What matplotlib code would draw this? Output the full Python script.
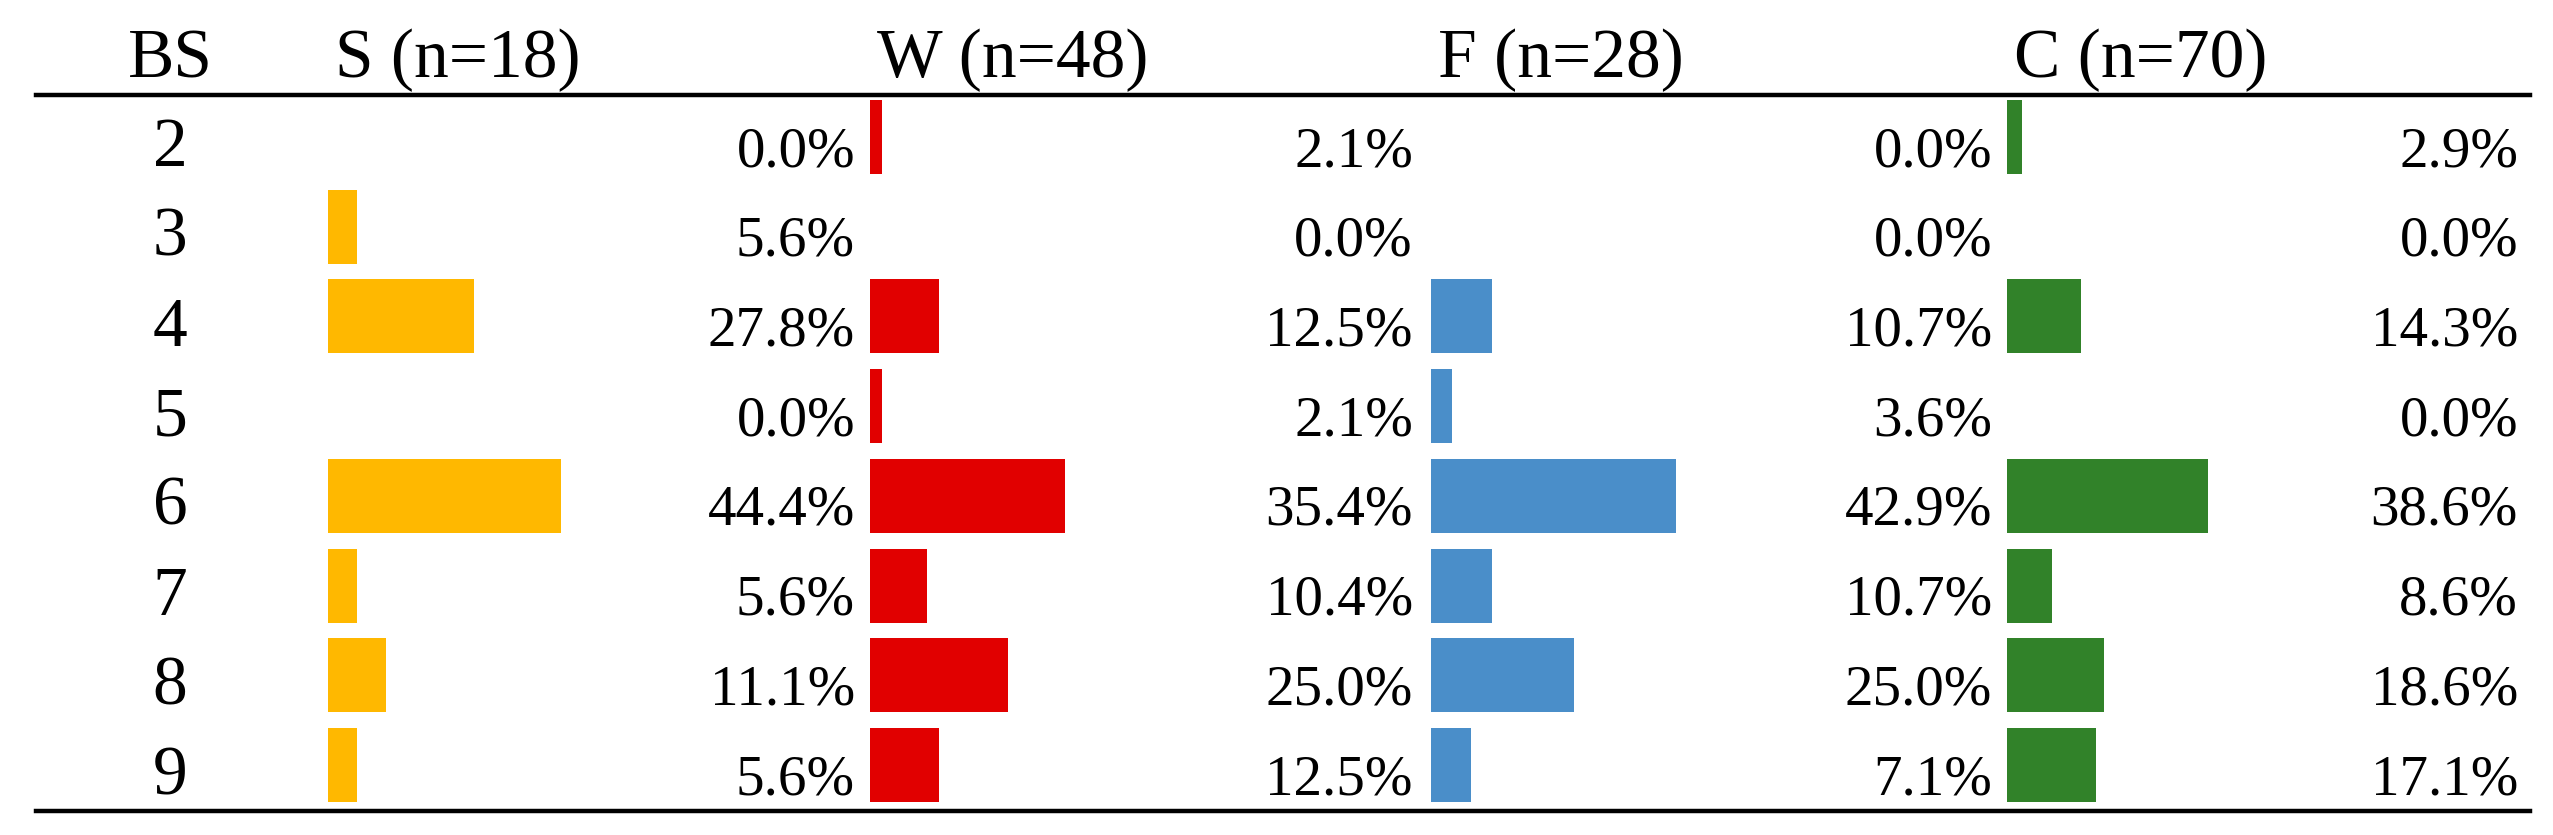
import matplotlib.pyplot as plt
from matplotlib.transforms import offset_copy, blended_transform_factory

# data
bs = ["2", "3", "4", "5", "6", "7", "8", "9"]
groups = ["S (n=18)", "W (n=48)", "F (n=28)", "C (n=70)"]
s_pct = [0.0, 5.6, 27.8, 0.0, 44.4, 5.6, 11.1, 5.6]
w_pct = [2.1, 0.0, 12.5, 2.1, 35.4, 10.4, 25.0, 12.5]
f_pct = [0.0, 0.0, 10.7, 3.6, 42.9, 10.7, 25.0, 7.1]
c_pct = [2.9, 0.0, 14.3, 0.0, 38.6, 8.6, 18.6, 17.1]
colors = ["#FFB800", "#E10000", "#4A8EC9", "#318229"]

W, H = 2553, 835
plt.rcParams['font.family'] = ['Liberation Serif', 'DejaVu Serif']
fig = plt.figure(figsize=(W / 100, H / 100), dpi=100)

# layout in pixels (bar start, scale width for 0-100%, right edge of % text)
col_left = [328, 870, 1431, 2007]
col_width = [525, 550, 570, 520]
pct_right = [855, 1413, 1992, 2518]
y_top, y_bot = 95, 811
ylim = (7.513, -0.468)
ax_bottom = (H - y_bot) / H
ax_height = (y_bot - y_top) / H
base_off = 0.325          # text baseline below row centre
head_y = 1 + 18 / (y_bot - y_top)   # header baseline, axes fraction

# frame axes: rules and row labels
ax0 = fig.add_axes([36 / W, ax_bottom, (2530 - 36) / W, ax_height])
ax0.set_xlim(0, 1)
ax0.set_ylim(*ylim)
ax0.axis("off")
ax0.axhline(ylim[1], color="black", lw=3.2, clip_on=False)
ax0.axhline(ylim[0], color="black", lw=3.2, clip_on=False)
lab_x = (170 - 36) / (2530 - 36)
for i, b in enumerate(bs):
    ax0.text(lab_x, i + base_off, b, ha="center", va="baseline", fontsize=50)
ax0.text(lab_x, head_y, "BS", ha="center", va="baseline", fontsize=50,
         transform=ax0.transAxes)

series = [s_pct, w_pct, f_pct, c_pct]
for k in range(4):
    ax = fig.add_axes([col_left[k] / W, ax_bottom, col_width[k] / W, ax_height])
    ax.barh(range(len(bs)), series[k], height=0.825, color=colors[k])
    ax.set_xlim(0, 100)
    ax.set_ylim(*ylim)
    ax.axis("off")
    tx = (pct_right[k] - col_left[k]) / col_width[k]
    trans = blended_transform_factory(ax.transAxes, ax.transData)
    for i, v in enumerate(series[k]):
        ax.text(tx, i + base_off, f"{v:.1f}%", ha="right", va="baseline",
                fontsize=41, transform=trans, clip_on=False)
    tr = offset_copy(ax.transAxes, fig=fig, x=7, y=0, units="dots")
    ax.text(0, head_y, groups[k], ha="left", va="baseline",
            fontsize=50, transform=tr, clip_on=False)

fig.savefig("out.png", dpi=100)
